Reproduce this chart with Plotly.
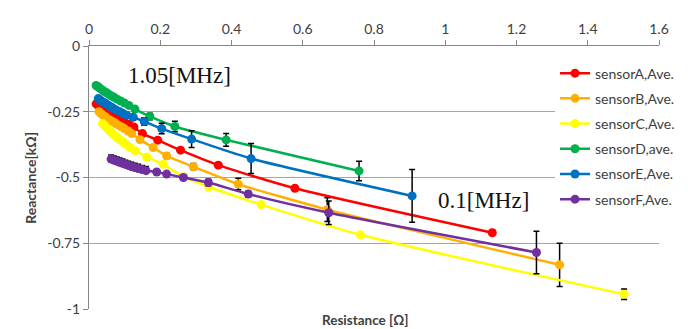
import plotly.graph_objects as go

# ---------------- data ----------------
names = ["sensorA,Ave.", "sensorB,Ave.", "sensorC,Ave.", "sensorD,ave.", "sensorE,Ave.", "sensorF,Ave."]
colors = ["#FF0000", "#FFB000", "#FFFF00", "#00B050", "#0070C0", "#7030A0"]

# sensorA (red)
a_R = [0.020, 0.025, 0.030, 0.036, 0.042, 0.048, 0.055, 0.062, 0.070, 0.079, 0.089, 0.100, 0.112,
       0.126, 0.150, 0.193, 0.257, 0.363, 0.578, 1.132]
a_X = [-0.220, -0.226, -0.232, -0.238, -0.244, -0.250, -0.256, -0.262, -0.268, -0.275, -0.282, -0.290, -0.298,
       -0.308, -0.333, -0.358, -0.396, -0.453, -0.541, -0.710]
a_E = [0.003, 0.003, 0.003, 0.003, 0.003, 0.003, 0.003, 0.003, 0.003, 0.003, 0.003, 0.003, 0.004,
       0.004, 0.005, 0.006, 0.006, 0.007, 0.005, 0.010]

# sensorB (orange)
b_R = [0.028, 0.033, 0.038, 0.044, 0.050, 0.057, 0.064, 0.072, 0.080, 0.089, 0.099, 0.110,
       0.120, 0.143, 0.180, 0.218, 0.293, 0.419, 0.669, 1.321]
b_X = [-0.250, -0.256, -0.262, -0.268, -0.274, -0.280, -0.286, -0.292, -0.299, -0.306, -0.314, -0.323,
       -0.333, -0.356, -0.386, -0.418, -0.459, -0.525, -0.622, -0.832]
b_E = [0.003, 0.003, 0.003, 0.003, 0.003, 0.003, 0.003, 0.003, 0.003, 0.003, 0.004, 0.004,
       0.005, 0.006, 0.008, 0.010, 0.012, 0.022, 0.045, 0.082]

# sensorC (yellow)
c_R = [0.038, 0.043, 0.048, 0.054, 0.060, 0.066, 0.073, 0.080, 0.088, 0.096, 0.105, 0.115,
       0.129, 0.162, 0.208, 0.265, 0.337, 0.483, 0.762, 1.502]
c_X = [-0.295, -0.302, -0.309, -0.317, -0.325, -0.333, -0.341, -0.349, -0.358, -0.367, -0.376, -0.386,
       -0.398, -0.422, -0.450, -0.497, -0.536, -0.603, -0.718, -0.944]
c_E = [0.002, 0.002, 0.002, 0.002, 0.002, 0.002, 0.002, 0.002, 0.002, 0.002, 0.002, 0.002,
       0.003, 0.003, 0.004, 0.004, 0.005, 0.005, 0.006, 0.020]

# sensorD (green)
d_R = [0.020, 0.025, 0.030, 0.036, 0.042, 0.048, 0.055, 0.062, 0.070, 0.079, 0.089, 0.100, 0.112,
       0.129, 0.171, 0.241, 0.385, 0.758]
d_X = [-0.150, -0.155, -0.160, -0.166, -0.172, -0.177, -0.183, -0.189, -0.195, -0.202, -0.209, -0.217, -0.226,
       -0.240, -0.268, -0.306, -0.357, -0.475]
d_E = [0.003, 0.003, 0.003, 0.003, 0.003, 0.003, 0.003, 0.004, 0.004, 0.004, 0.005, 0.005, 0.006,
       0.008, 0.012, 0.020, 0.024, 0.037]

# sensorE (blue)
e_R = [0.026, 0.031, 0.036, 0.042, 0.048, 0.054, 0.061, 0.068, 0.076, 0.085, 0.095, 0.106,
       0.124, 0.155, 0.204, 0.288, 0.455, 0.907]
e_X = [-0.200, -0.205, -0.210, -0.215, -0.220, -0.225, -0.231, -0.237, -0.243, -0.249, -0.256, -0.263,
       -0.271, -0.287, -0.314, -0.354, -0.428, -0.570]
e_E = [0.003, 0.003, 0.003, 0.003, 0.003, 0.004, 0.004, 0.004, 0.004, 0.005, 0.005, 0.006,
       0.008, 0.014, 0.020, 0.032, 0.057, 0.100]

# sensorF (purple)
f_R = [0.062, 0.070, 0.078, 0.086, 0.094, 0.102, 0.110, 0.119, 0.128, 0.138, 0.149, 0.160,
       0.190, 0.218, 0.265, 0.335, 0.447, 0.673, 1.256]
f_X = [-0.430, -0.434, -0.438, -0.442, -0.446, -0.450, -0.454, -0.458, -0.462, -0.466, -0.470, -0.474,
       -0.479, -0.487, -0.500, -0.519, -0.563, -0.634, -0.785]
f_Ep = [0.016, 0.016, 0.016, 0.016, 0.016, 0.016, 0.016, 0.016, 0.016, 0.016, 0.016, 0.016,
        0.006, 0.006, 0.008, 0.012, 0.012, 0.045, 0.081]
f_Em = [0.004, 0.004, 0.004, 0.004, 0.004, 0.004, 0.004, 0.004, 0.004, 0.004, 0.004, 0.004,
        0.006, 0.006, 0.008, 0.012, 0.012, 0.045, 0.081]

x_ticks = [0, 0.2, 0.4, 0.6, 0.8, 1.0, 1.2, 1.4, 1.6]
x_ticktext = ["0", "0.2", "0.4", "0.6", "0.8", "1", "1.2", "1.4", "1.6"]
y_ticks = [0, -0.25, -0.5, -0.75, -1.0]
y_ticktext = ["0", "-0.25", "-0.5", "-0.75", "-1"]

freq_labels = ["1.05[MHz]", "0.1[MHz]"]
freq_pos_x = [0.255, 1.106]
freq_pos_y = [-0.113, -0.589]

series = [
    (a_R, a_X, a_E, a_E),
    (b_R, b_X, b_E, b_E),
    (c_R, c_X, c_E, c_E),
    (d_R, d_X, d_E, d_E),
    (e_R, e_X, e_E, e_E),
    (f_R, f_X, f_Ep, f_Em),
]

fig = go.Figure()
for i, (R, X, ep, em) in enumerate(series):
    fig.add_trace(go.Scatter(
        x=R, y=X, name=names[i], mode="lines+markers",
        line=dict(color=colors[i], width=2.5, shape="spline", smoothing=0.6),
        marker=dict(color=colors[i], size=9),
        error_y=dict(type="data", array=ep, arrayminus=em, symmetric=False,
                     color="black", thickness=1.5, width=3),
        legendgroup="g%d" % i,
    ))

ann = []
for t, xx, yy in zip(freq_labels, freq_pos_x, freq_pos_y):
    ann.append(dict(x=xx, y=yy, xref="x", yref="y", text=t, showarrow=False,
                    font=dict(family="Liberation Serif, Times New Roman, serif", size=23, color="#111111"),
                    xanchor="center", yanchor="middle"))
ann.append(dict(x=0.4845, y=-0.040, xref="paper", yref="paper", text="<b>Resistance [Ω]</b>",
                showarrow=False, xanchor="center", yanchor="middle",
                font=dict(family="Lato, Carlito, Calibri, sans-serif", size=13.5, color="#404040")))
ann.append(dict(x=-0.103, y=0.5, xref="paper", yref="paper", text="<b>Reactance[kΩ]</b>",
                showarrow=False, xanchor="center", yanchor="middle", textangle=-90,
                font=dict(family="Lato, Carlito, Calibri, sans-serif", size=14, color="#404040")))

fig.update_layout(
    width=688, height=329,
    margin=dict(l=81, r=37, t=38, b=28),
    paper_bgcolor="white", plot_bgcolor="white",
    font=dict(family="Lato, Carlito, Calibri, sans-serif", size=14, color="#404040"),
    showlegend=True,
    legend=dict(x=0.8176, y=0.956, xanchor="left", yanchor="top", bgcolor="white",
                font=dict(size=14, color="#404040"), tracegroupgap=4,
                itemwidth=30),
    annotations=ann,
    xaxis=dict(range=[0, 1.6], side="top", tickvals=x_ticks, ticktext=x_ticktext,
               showgrid=False, zeroline=False, showline=True, linecolor="#868686", linewidth=1,
               ticks="outside", ticklen=5, tickcolor="#868686",
               tickfont=dict(size=14, color="#404040")),
    yaxis=dict(range=[-1, 0], tickvals=y_ticks, ticktext=y_ticktext,
               showgrid=True, gridcolor="#A6A6A6", gridwidth=1, zeroline=False,
               showline=True, linecolor="#868686", linewidth=1,
               ticks="outside", ticklen=5, tickcolor="#868686",
               tickfont=dict(size=14, color="#404040")),
)

fig.write_html("out.html")
